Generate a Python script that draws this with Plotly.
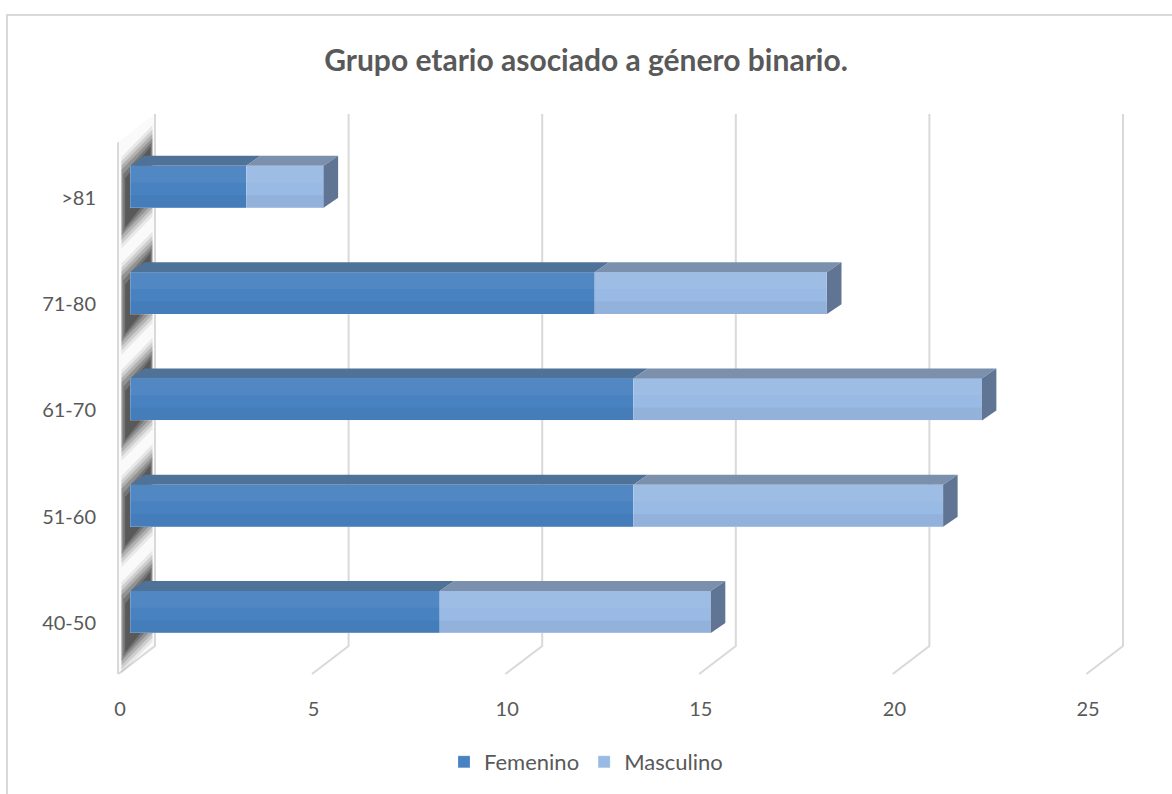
import plotly.graph_objects as go

# ---- data ----
categories = ["40-50", "51-60", "61-70", "71-80", ">81"]
femenino = [8, 13, 13, 12, 3]
masculino = [7, 8, 9, 6, 2]
x_ticks = [0, 5, 10, 15, 20, 25]

title_text = "Grupo etario asociado a género binario."
FONT = "Lato"
TXT = "#595959"
GRID = "#d9d9d9"

# ---- 3D styling parameters (data units) ----
bar_w = 0.395          # front face height in category units
dx3, dy3 = 0.375, 0.094  # depth offset of bars
back_dx = 0.646        # back wall offset
front_dx = -0.31       # front floor offset
k_back_top, k_back_bot, k_front_bot, k_front_top = 4.685, -0.32, -0.583, 4.42

ypos = list(range(len(categories)))

fig = go.Figure()

shapes = []

# chart frame
shapes.append(dict(type="rect", xref="paper", yref="paper",
                   x0=-0.0894, x1=1.2, y0=1.1538, y1=-0.25,
                   line=dict(color=GRID, width=2), fillcolor="rgba(0,0,0,0)", layer="below"))

# left wall
shapes.append(dict(type="path", xref="x", yref="y",
                   path=f"M {front_dx},{k_front_top} L {back_dx},{k_back_top} L {back_dx},{k_back_bot} L {front_dx},{k_front_bot} Z",
                   fillcolor="#fafafa", line=dict(width=0), layer="below"))
shapes.append(dict(type="line", xref="x", yref="y", x0=front_dx, x1=front_dx,
                   y0=k_front_top, y1=k_front_bot, line=dict(color=GRID, width=2), layer="below"))

# gridlines (back wall + floor diagonals)
for v in x_ticks:
    shapes.append(dict(type="path", xref="x", yref="y",
                       path=f"M {v+back_dx},{k_back_top} L {v+back_dx},{k_back_bot} L {v+front_dx+0.01},{k_front_bot}",
                       line=dict(color=GRID, width=2), layer="below"))

# blurred shadows on the left wall (layered translucent bands)
layers = [(0.12, 0.08), (0.08, 0.12), (0.04, 0.16), (0.0, 0.2), (-0.04, 0.25), (-0.08, 0.3)]
for k in ypos:
    for grow, op in layers:
        yt_back = k + 0.46 + grow
        yb_back = k - 0.16 - grow
        yt_front = k + 0.16 + grow
        yb_front = k - 0.46 - grow
        xb = 0.58 - max(0.0, -grow) * 0.6
        xf = -0.22 + max(0.0, -grow) * 1.2
        shapes.append(dict(type="path", xref="x", yref="y",
                           path=f"M {xf},{yt_front} L {xb},{yt_back} L {xb},{yb_back} L {xf},{yb_front} Z",
                           fillcolor="#1a1a1a", opacity=op, line=dict(width=0), layer="below"))

# bars
fig.add_trace(go.Bar(y=ypos, x=femenino, orientation="h", name="Femenino", width=bar_w,
                     marker=dict(color="#4882C0", line=dict(color="rgba(255,255,255,0.4)", width=0.5))))
fig.add_trace(go.Bar(y=ypos, x=masculino, base=femenino, orientation="h", name="Masculino", width=bar_w,
                     marker=dict(color="#99BAE4", line=dict(color="rgba(255,255,255,0.4)", width=0.5))))

# 3D top and side faces + subtle shading on the front faces
for k, f, m in zip(ypos, femenino, masculino):
    yt = k + bar_w / 2
    yb = k - bar_w / 2
    for x0, x1, col in [(0, f, "#4F7299"), (f, f + m, "#7B90AD")]:
        shapes.append(dict(type="path", xref="x", yref="y",
                           path=f"M {x0},{yt} L {x1},{yt} L {x1+dx3},{yt+dy3} L {x0+dx3},{yt+dy3} Z",
                           fillcolor=col, line=dict(width=0), layer="above"))
        shapes.append(dict(type="rect", xref="x", yref="y", x0=x0, x1=x1,
                           y0=k + bar_w * 0.1, y1=yt, fillcolor="white", opacity=0.05,
                           line=dict(width=0), layer="above"))
        shapes.append(dict(type="rect", xref="x", yref="y", x0=x0, x1=x1,
                           y0=yb, y1=k - bar_w * 0.2, fillcolor="#0a2a55", opacity=0.05,
                           line=dict(width=0), layer="above"))
    xe = f + m
    shapes.append(dict(type="path", xref="x", yref="y",
                       path=f"M {xe},{yb} L {xe},{yt} L {xe+dx3},{yt+dy3} L {xe+dx3},{yb+dy3} Z",
                       fillcolor="#5F7593", line=dict(width=0), layer="above"))

fig.update_layout(
    width=1172, height=794,
    margin=dict(l=100, r=32, t=105, b=104),
    paper_bgcolor="white", plot_bgcolor="rgba(0,0,0,0)",
    barmode="stack", bargap=0.6,
    title=dict(text=f"<b>{title_text}</b>", x=0.5, xanchor="center", y=1 - 60 / 794,
               yanchor="middle", yref="container",
               font=dict(family=FONT, size=30, color=TXT)),
    showlegend=True,
    legend=dict(orientation="h", x=0.5, xanchor="center", xref="container",
                y=1 - 762 / 794, yanchor="middle", yref="container",
                font=dict(family=FONT, size=22, color=TXT), traceorder="normal"),
    shapes=shapes,
)

fig.update_xaxes(range=[(100 - 130) / 38.72, (1140 - 130) / 38.72], tickvals=x_ticks,
                 showgrid=False, zeroline=False, showline=False, ticks="",
                 ticklabelshift=-10, ticklabelstandoff=5,
                 tickfont=dict(family=FONT, size=20, color=TXT))
fig.update_yaxes(range=[-0.734, 4.770], tickvals=ypos, ticktext=categories,
                 showgrid=False, zeroline=False, showline=False, ticks="",
                 ticklabelshift=11, ticklabelstandoff=3,
                 tickfont=dict(family=FONT, size=20, color=TXT))

fig.write_html("out.html")
